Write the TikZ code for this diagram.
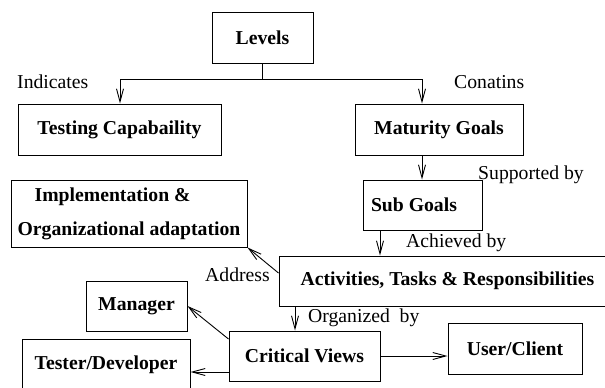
\documentclass[tikz,border=0pt]{standalone}
\usepackage{fontspec}
\setmainfont{Liberation Serif}
\usetikzlibrary{arrows.meta}
\begin{document}
\begin{tikzpicture}[x=1pt,y=-1pt,
  box/.style={draw, line width=1pt, inner sep=0pt, font=\fontsize{19.7}{24}\selectfont\bfseries},
  lbl/.style={inner sep=0pt, anchor=base west, font=\fontsize{19.7}{24}\selectfont},
  arr/.style={line width=0.9pt, -{Straight Barb[length=13pt,width=7pt]}},
  ln/.style={line width=0.9pt}]
\useasboundingbox (0,0) rectangle (605,388);
\clip (0,0) rectangle (605,388);
% boxes
\node[box, minimum width=101pt, minimum height=51pt] (levels) at (262.5,37.5) {Levels};
\node[box, minimum width=203pt, minimum height=51pt] (testing) at (119.5,129.5) {Testing Capabaility};
\node[box, minimum width=168pt, minimum height=51pt] (maturity) at (439,129.5) {Maturity Goals};
\node[box, minimum width=119pt, minimum height=50pt] (subgoals) at (422.5,205) {\hspace*{-17pt}Sub Goals};
\node[box, minimum width=236pt, minimum height=67pt, align=left,
      font=\fontsize{19.7}{34}\selectfont\bfseries] (impl) at (129,213.5)
      {\hspace*{17pt}Implementation \&\\Organizational adaptation};
\node[box, minimum width=337pt, minimum height=50pt] (act) at (447.5,281) {Activities, Tasks \& Responsibilities};
\node[box, minimum width=101pt, minimum height=50pt] (manager) at (136.5,306) {Manager};
\node[box, minimum width=151pt, minimum height=50pt] (critical) at (304.5,356) {Critical Views};
\node[box, minimum width=134pt, minimum height=51pt] (user) at (515,348.5) {User/Client};
\node[box, minimum width=168pt, minimum height=51pt] (tester) at (106,364.5) {Tester/Developer};
% helper coordinates
\coordinate (split) at (262.5,79);
\coordinate (mx) at (422,0);
\coordinate (tx) at (120,0);
\coordinate (ax) at (380,0);
\coordinate (cx) at (295,0);
% connectors
\draw[ln] (levels.south) -- (split);
\draw[arr] (split) -| (tx |- testing.north);
\draw[arr] (split) -| (mx |- maturity.north);
\draw[arr] (mx |- maturity.south) -- (mx |- subgoals.north);
\draw[arr] (ax |- subgoals.south) -- (ax |- act.north);
\draw[arr] ([yshift=8pt]act.west) -- (impl.south east);
\draw[arr] (cx |- act.south) -- (cx |- critical.north);
\draw[arr] ([yshift=17pt]critical.west) -- (manager.east);
\draw[arr] ([yshift=-16pt]critical.west) -- ([yshift=-16pt]critical.west -| tester.east);
\draw[arr] (critical.east) -- (critical.east -| user.west);
% labels
\node[lbl] (l1) at (17,88) {Indicates};
\node[lbl] (l2) at (454,88) {Conatins};
\node[lbl] (l3) at (478,179) {Supported by};
\node[lbl] (l4) at (406,247) {Achieved by};
\node[lbl] (l5) at (205,281) {Address};
\node[lbl] (l6) at (308,322) {Organized\ \ by};
\end{tikzpicture}
\end{document}
